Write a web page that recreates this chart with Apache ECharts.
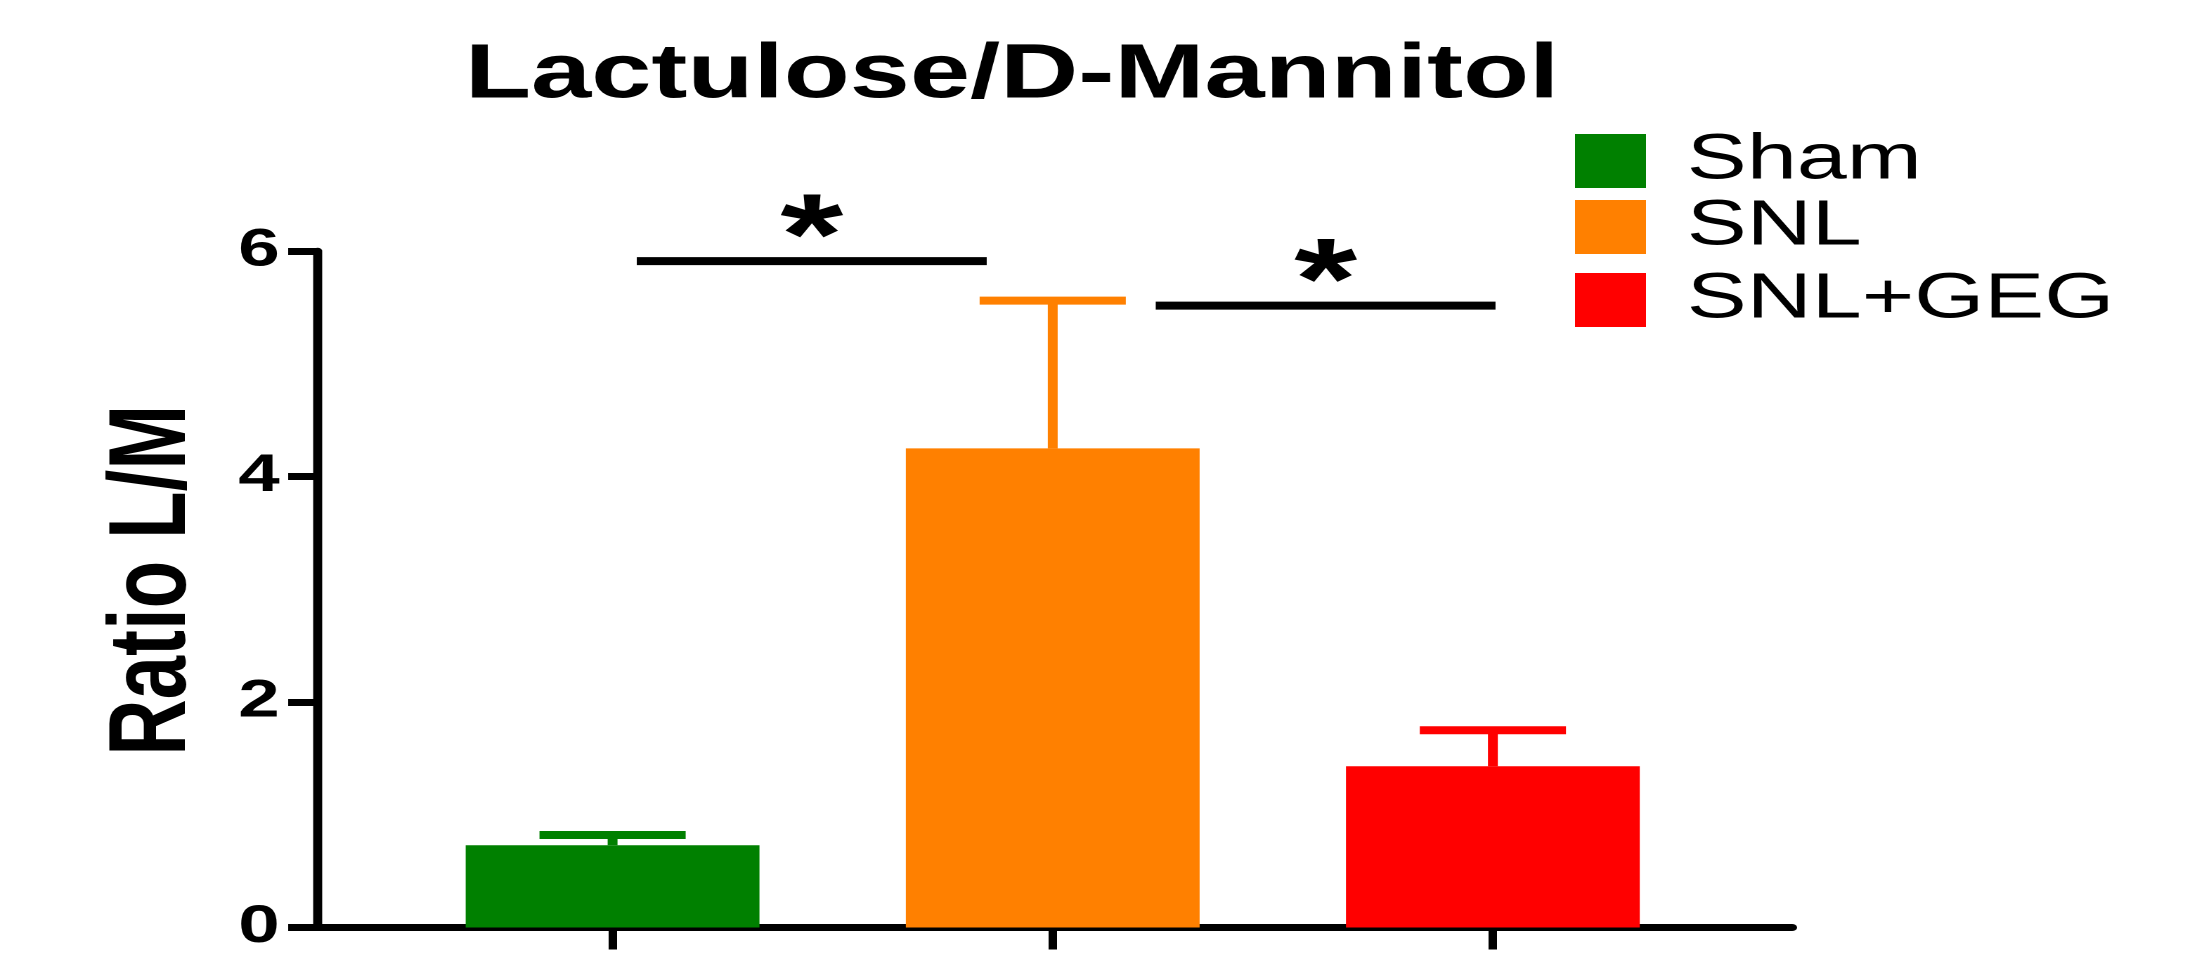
<!DOCTYPE html>
<html>
<head>
<meta charset="utf-8">
<title>Lactulose/D-Mannitol</title>
<script src="https://cdn.jsdelivr.net/npm/echarts@6/dist/echarts.min.js"></script>
<style>
  html, body { margin: 0; padding: 0; background: #ffffff; overflow: hidden; }
  /* The figure is laid out on a 1568px-wide canvas and widened to 2204px. */
  #chart { width: 1568px; height: 954px; transform: scaleX(1.405612); transform-origin: 0 0; }
</style>
</head>
<body>
<div id="chart"></div>
<script>
// Groups, means and SEM of the lactulose/mannitol ratio
const groups = ['Sham', 'SNL', 'SNL+GEG'];
const groupX = [1, 2, 3];
const means = [0.73, 4.25, 1.43];
const sems = [0.09, 1.31, 0.32];
const colors = ['#008000', '#FF8000', '#FF0000'];

// Y axis ticks
const yTicks = [0, 2, 4, 6];

// Significance brackets: start x, end x, height (in data units) and mark
const sigFrom = [1.055, 2.234];
const sigTo = [1.85, 3.006];
const sigY = [5.91, 5.515];
const sigText = ['*', '*'];

const FONT = '"Liberation Sans", Arial, Helvetica, sans-serif';
const legendTops = [129, 195, 268];

const chart = echarts.init(document.getElementById('chart'), null, { renderer: 'canvas', devicePixelRatio: 2 });

const barSeries = groups.map((g, i) => ({
  name: g,
  type: 'bar',
  barWidth: 209,
  barGap: '-100%',
  itemStyle: { color: colors[i] },
  data: [[groupX[i], means[i]]],
  z: 2
}));

const errorSeries = {
  name: 'SEM',
  type: 'custom',
  z: 3,
  clip: false,
  data: groups.map((g, i) => [groupX[i], means[i], sems[i], i]),
  renderItem: function (params, api) {
    const x = api.value(0);
    const m = api.value(1);
    const s = api.value(2);
    const c = colors[api.value(3)];
    const base = api.coord([x, m]);
    const top = api.coord([x, m + s]);
    const half = 52;
    return {
      type: 'group',
      children: [
        { type: 'line', shape: { x1: base[0], y1: base[1], x2: top[0], y2: top[1] },
          style: { stroke: c, lineWidth: 7 } },
        { type: 'line', shape: { x1: top[0] - half, y1: top[1], x2: top[0] + half, y2: top[1] },
          style: { stroke: c, lineWidth: 8 } }
      ]
    };
  }
};

const sigSeries = {
  name: 'significance',
  type: 'custom',
  z: 4,
  clip: false,
  data: sigFrom.map((f, i) => [f, sigTo[i], sigY[i], i]),
  renderItem: function (params, api) {
    const a = api.coord([api.value(0), api.value(2)]);
    const b = api.coord([api.value(1), api.value(2)]);
    const mid = (a[0] + b[0]) / 2;
    return {
      type: 'group',
      children: [
        { type: 'line', shape: { x1: a[0], y1: a[1], x2: b[0], y2: b[1] },
          style: { stroke: '#000', lineWidth: 8 } },
        { type: 'text', x: mid, y: a[1] - 19,
          style: { text: sigText[api.value(3)], fill: '#000', font: 'bold 115px ' + FONT,
                   align: 'center', verticalAlign: 'middle' } }
      ]
    };
  }
};

const option = {
  animation: false,
  backgroundColor: '#ffffff',
  title: {
    text: 'Lactulose/D-Mannitol',
    left: 720,
    top: 38,
    padding: 0,
    textAlign: 'center',
    textStyle: { fontFamily: FONT, fontSize: 77, fontWeight: 'bold', color: '#000' }
  },
  legend: groups.map((g, i) => ({
    data: [g],
    orient: 'vertical',
    left: 1120.5,
    top: legendTops[i],
    padding: 0,
    icon: 'rect',
    itemWidth: 50.5,
    itemHeight: 54,
    selectedMode: false,
    textStyle: { fontFamily: FONT, fontSize: 64, color: '#000', lineHeight: 54, padding: [0, 0, 0, 24] }
  })),
  grid: { left: 226, right: 293, top: 251, bottom: 22 },
  xAxis: {
    type: 'value',
    min: 0.33,
    max: 3.68,
    splitLine: { show: false },
    axisLine: { show: true, onZero: false, lineStyle: { color: '#000', width: 7 } },
    axisTick: { show: true, customValues: groupX, length: 22, lineStyle: { color: '#000', width: 6 } },
    axisLabel: { show: false }
  },
  yAxis: {
    type: 'value',
    min: yTicks[0],
    max: yTicks[yTicks.length - 1],
    interval: yTicks[1] - yTicks[0],
    name: 'Ratio L/M',
    nameLocation: 'middle',
    nameGap: 77,
    nameTextStyle: { fontFamily: FONT, fontSize: 78, fontWeight: 'bold', color: '#000', padding: [0, 0, 0, 18] },
    splitLine: { show: false },
    axisLine: { show: true, lineStyle: { color: '#000', width: 6.4 } },
    axisTick: { show: true, length: 21, lineStyle: { color: '#000', width: 7 } },
    axisLabel: { margin: 27, fontFamily: FONT, fontSize: 53, fontWeight: 'bold', color: '#000' }
  },
  series: [...barSeries, errorSeries, sigSeries]
};

chart.setOption(option);
</script>
</body>
</html>
